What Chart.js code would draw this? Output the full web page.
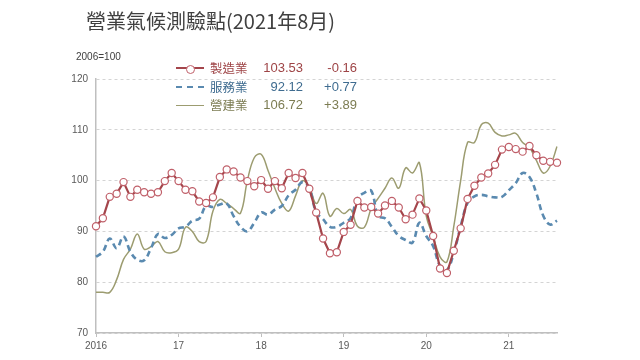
<!DOCTYPE html>
<html>
<head>
<meta charset="utf-8">
<script src="https://cdn.jsdelivr.net/npm/chart.js@4.4.0/dist/chart.umd.min.js"></script>
<style>
  html, body { margin: 0; padding: 0; background: #ffffff; }
  #wrap { position: relative; width: 640px; height: 360px; overflow: hidden; background: #fff; }
  #c { position: absolute; left: 0; top: 0; }
  .txt { position: absolute; white-space: nowrap; font-family: "Liberation Sans", "Noto Sans CJK TC", sans-serif; }
  #title { left: 86px; top: 10px; font-family: "Noto Sans CJK TC", sans-serif; font-size: 20px; line-height: 22px; color: #404040; }
  #unit { left: 76px; top: 51px; font-size: 10px; line-height: 12px; color: #404040; }
  .row { position: absolute; left: 0; width: 640px; height: 18px; }
  .sample { position: absolute; left: 176px; width: 28px; top: 9px; height: 0; }
  .lab { position: absolute; left: 210px; top: 0; font-size: 12.5px; line-height: 18px; font-family: "Noto Sans CJK TC", sans-serif; }
  .val { position: absolute; right: 337px; top: 0; font-size: 13px; line-height: 18px; }
  .chg { position: absolute; right: 283px; top: 0; font-size: 13px; line-height: 18px; }
  .dot { position: absolute; left: 10px; top: -4.5px; width: 7px; height: 7px; border-radius: 50%; background: #fff; border: 1.2px solid #C0606A; }
</style>
</head>
<body>
<div id="wrap">
  <canvas id="c" width="640" height="360"></canvas>
  <div id="title" class="txt"></div>
  <div id="unit" class="txt"></div>
  <div id="legend"></div>
</div>
<script>
// ---- data ----
const titleText = '營業氣候測驗點(2021年8月)';
const unitText = '2006=100';
const seriesNames = ['製造業', '服務業', '營建業'];
const yearTickLabels = ['2016', '17', '18', '19', '20', '21'];

const months = [];
for (let y = 2016; y <= 2021; y++) {
  for (let m = 1; m <= 12; m++) {
    if (y === 2021 && m > 8) break;
    months.push(y + '-' + String(m).padStart(2, '0'));
  }
}

const manufacturing = [
  91.0, 92.6, 96.8, 97.4, 99.7, 96.8, 98.2, 97.7, 97.4, 97.7, 99.9, 101.5,
  99.9, 98.2, 97.9, 95.9, 95.6, 96.7, 100.7, 102.2, 101.8, 100.6, 99.9, 98.9,
  100.1, 98.4, 99.9, 98.5, 101.5, 100.5, 101.5, 98.4, 93.7, 88.6, 85.7, 85.9,
  89.9, 91.3, 96.0, 94.7, 94.8, 93.5, 95.1, 96.0, 94.7, 92.4, 93.3, 96.5,
  94.1, 89.1, 82.7, 81.8, 86.2, 90.6, 96.4, 99.0, 100.6, 101.4, 103.1, 106.1,
  106.6, 106.2, 105.7, 106.8, 105.0, 103.9, 103.69, 103.53
];
const services = [
  85.0, 86.0, 88.6, 86.7, 89.0, 86.0, 84.4, 84.3, 86.7, 89.5, 88.7, 89.3,
  90.6, 90.9, 92.1, 92.5, 95.0, 94.8, 95.3, 95.5, 93.0, 90.9, 90.0, 91.7,
  93.7, 93.3, 94.3, 95.0, 97.1, 98.2, 99.7, 98.5, 93.8, 92.4, 90.9, 90.9,
  91.7, 92.6, 96.5, 97.6, 98.0, 93.0, 92.6, 90.9, 89.1, 88.3, 87.8, 91.7,
  89.1, 87.1, 83.2, 82.4, 85.8, 91.0, 95.6, 96.9, 97.2, 96.9, 96.7, 96.8,
  98.1, 99.5, 101.5, 100.7, 97.5, 93.1, 91.35, 92.12
];
const construction = [
  78.0, 78.0, 78.0, 80.5, 84.5, 86.5, 89.5, 86.5, 87.0, 88.0, 86.0, 85.8,
  86.5, 90.8, 90.0, 88.0, 88.0, 94.0, 96.3, 95.5, 94.5, 93.6, 100.0, 104.5,
  105.2, 102.0, 98.5, 95.5, 94.0, 97.0, 100.0, 98.7, 95.5, 97.5, 93.0, 94.5,
  93.5, 94.3, 91.0, 90.8, 94.5, 96.5, 98.5, 100.5, 98.5, 102.5, 101.5, 103.5,
  93.0, 89.0, 85.0, 84.0, 91.0, 100.0, 107.5, 107.5, 111.0, 111.3, 109.5, 108.8,
  109.0, 109.3, 107.5, 106.5, 104.0, 101.5, 102.83, 106.72
];

// ---- styles ----
const lineColors = ['#A4454B', '#5A8AB0', '#9C9C70'];
const textColors = ['#9E4446', '#3F6C90', '#7C7C52'];

// ---- header / legend (real text) ----
document.getElementById('title').textContent = titleText;
document.getElementById('unit').textContent = unitText;
const allSeries = [manufacturing, services, construction];
const rowTops = [59, 78, 96];
const legend = document.getElementById('legend');
allSeries.forEach((s, i) => {
  const last = s[s.length - 1], prev = s[s.length - 2];
  const d = last - prev;
  const row = document.createElement('div');
  row.className = 'row';
  row.style.top = rowTops[i] + 'px';
  const sample = document.createElement('div');
  sample.className = 'sample';
  if (i === 0) {
    sample.style.borderTop = '2px solid ' + lineColors[0];
    sample.style.top = '8px';
    const dot = document.createElement('div');
    dot.className = 'dot';
    sample.appendChild(dot);
  } else if (i === 1) {
    sample.style.borderTop = '2px dashed ' + lineColors[1];
    sample.style.top = '8px';
  } else {
    sample.style.borderTop = '1px solid ' + lineColors[2];
  }
  row.appendChild(sample);
  const lab = document.createElement('div');
  lab.className = 'lab txt'; lab.textContent = seriesNames[i]; lab.style.color = textColors[i];
  const val = document.createElement('div');
  val.className = 'val txt'; val.textContent = last.toFixed(2); val.style.color = textColors[i];
  const chg = document.createElement('div');
  chg.className = 'chg txt'; chg.textContent = (d >= 0 ? '+' : '') + d.toFixed(2); chg.style.color = textColors[i];
  row.appendChild(lab); row.appendChild(val); row.appendChild(chg);
  legend.appendChild(row);
});

// ---- chart ----
new Chart(document.getElementById('c'), {
  type: 'line',
  data: {
    labels: months,
    datasets: [
      {
        label: seriesNames[0], data: manufacturing,
        borderColor: lineColors[0], borderWidth: 2.2, tension: 0,
        pointRadius: 3.6, pointBackgroundColor: '#ffffff',
        pointBorderColor: '#C0606A', pointBorderWidth: 1.2, order: 0
      },
      {
        label: seriesNames[1], data: services,
        borderColor: lineColors[1], borderWidth: 2.6, borderDash: [6, 4],
        tension: 0.4, pointRadius: 0, order: 1
      },
      {
        label: seriesNames[2], data: construction,
        borderColor: lineColors[2], borderWidth: 1.5,
        tension: 0.4, pointRadius: 0, order: 2
      }
    ]
  },
  options: {
    responsive: false,
    animation: false,
    devicePixelRatio: 1,
    layout: { padding: { top: 79, right: 83, bottom: 0, left: 0 } },
    plugins: { legend: { display: false }, tooltip: { enabled: false }, title: { display: false } },
    scales: {
      x: {
        type: 'category',
        offset: false,
        afterFit: (s) => { s.height = 27; },
        grid: {
          drawOnChartArea: false, drawTicks: true, tickLength: 4,
          tickColor: (c) => (c.index % 12 === 0 ? '#bfbfbf' : 'rgba(0,0,0,0)')
        },
        border: { display: true, color: '#bfbfbf', width: 1.5 },
        ticks: {
          autoSkip: false, maxRotation: 0, minRotation: 0, padding: 3,
          color: '#595959', font: { family: 'Liberation Sans', size: 10 },
          callback: (v, i) => (i % 12 === 0 ? yearTickLabels[i / 12] : '')
        }
      },
      y: {
        min: 70, max: 120,
        afterFit: (s) => { s.width = 96; },
        grid: { color: '#d4d4d4', lineWidth: 1, drawTicks: false },
        border: { display: true, color: '#bfbfbf', width: 1.5, dash: [3, 3] },
        ticks: {
          stepSize: 10, padding: 8, color: '#595959',
          font: { family: 'Liberation Sans', size: 10 }
        }
      }
    }
  }
});
</script>
</body>
</html>
